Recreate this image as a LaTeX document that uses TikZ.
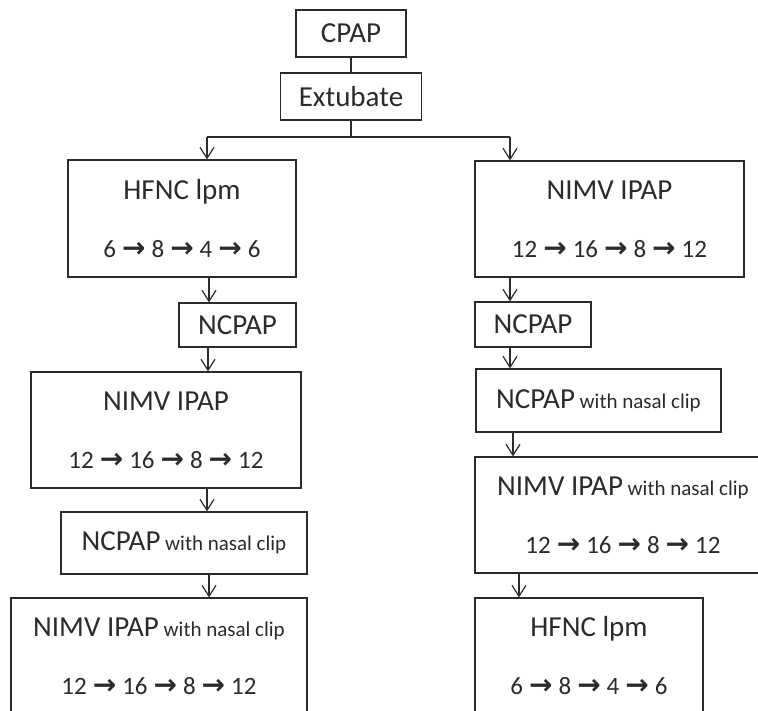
\documentclass[tikz,border=0pt]{standalone}
\usepackage{fontspec}
\setmainfont{Carlito}
\newfontfamily\dejavu{DejaVu Sans}
\usetikzlibrary{arrows.meta}
\newcommand{\fle}{\hspace{6pt}{\dejavu\bfseries\fontsize{28}{58}\selectfont\symbol{"2192}}\hspace{6pt}}
\newcommand{\titre}[1]{{\fontsize{29}{58}\selectfont #1}}
\newcommand{\pince}{{\fontsize{21}{58}\selectfont\ with nasal clip}}
\definecolor{trait}{HTML}{2B2B2B}

\begin{document}
\begin{tikzpicture}[x=1pt, y=-1pt]
\tikzset{boite/.style={draw=trait, line width=1.2pt, inner sep=0pt, align=center,
  text=trait, font=\fontsize{25}{58}\selectfont},
  fleche/.style={draw=trait, line width=1.2pt, -{Straight Barb[length=11pt, width=14pt, line width=1.2pt]}},
  trait/.style={draw=trait, line width=1.2pt}}
\useasboundingbox (0,0) rectangle (758,711);
\path[clip] (0,0) rectangle (758,711);
\node[boite, minimum width=110pt, minimum height=47pt] (cpap) at (351,33.5) {\titre{CPAP}};
\node[boite, minimum width=141pt, minimum height=47pt] (extub) at (351,96.5) {\titre{Extubate}};
\node[boite, minimum width=228pt, minimum height=117pt] (hfncG) at (182,218.5) {\titre{HFNC lpm}\\6\fle 8\fle 4\fle 6};
\node[boite, minimum width=117pt, minimum height=44pt] (ncpapG) at (237.5,325) {\titre{NCPAP}};
\node[boite, minimum width=270pt, minimum height=116pt] (nimvG) at (166,430) {\titre{NIMV IPAP}\\12\fle 16\fle 8\fle 12};
\node[boite, minimum width=246pt, minimum height=62pt] (pinceG) at (184,543) {\titre{NCPAP}\pince};
\node[boite, minimum width=296pt, minimum height=116pt] (nimvpG) at (159,656) {\titre{NIMV IPAP}\pince\\12\fle 16\fle 8\fle 12};
\node[boite, minimum width=269pt, minimum height=116pt] (nimvD) at (609.5,219) {\titre{NIMV IPAP}\\12\fle 16\fle 8\fle 12};
\node[boite, minimum width=116pt, minimum height=45pt] (ncpapD) at (533,324.5) {\titre{NCPAP}};
\node[boite, minimum width=245pt, minimum height=63pt] (pinceD) at (598.5,400.5) {\titre{NCPAP}\pince};
\node[boite, minimum width=296pt, minimum height=116pt] (nimvpD) at (623,515) {\titre{NIMV IPAP}\pince\\12\fle 16\fle 8\fle 12};
\node[boite, minimum width=228pt, minimum height=116pt] (hfncD) at (589,656) {\titre{HFNC lpm}\\6\fle 8\fle 4\fle 6};
\coordinate (fourcheG) at (207,137);
\coordinate (fourcheD) at (510,137);
\draw[trait] (cpap) -- (extub);
\draw[trait] (extub.south) -- (extub.south |- fourcheG);
\draw[trait] (fourcheG) -- (fourcheD);
\draw[fleche] (fourcheG) -- (fourcheG |- hfncG.north);
\draw[fleche] (fourcheD) -- (fourcheD |- nimvD.north);
\draw[fleche] (hfncG.south -| 209,0) -- (ncpapG.north -| 209,0);
\draw[fleche] (ncpapG.south -| 208,0) -- (nimvG.north -| 208,0);
\draw[fleche] (nimvG.south -| 207,0) -- (pinceG.north -| 207,0);
\draw[fleche] (pinceG.south -| 209,0) -- (nimvpG.north -| 209,0);
\draw[fleche] (nimvD.south -| 510,0) -- (ncpapD.north -| 510,0);
\draw[fleche] (ncpapD.south -| 510,0) -- (pinceD.north -| 510,0);
\draw[fleche] (pinceD.south -| 513,0) -- (nimvpD.north -| 513,0);
\draw[fleche] (nimvpD.south -| 519,0) -- (hfncD.north -| 519,0);
\end{tikzpicture}
\end{document}
